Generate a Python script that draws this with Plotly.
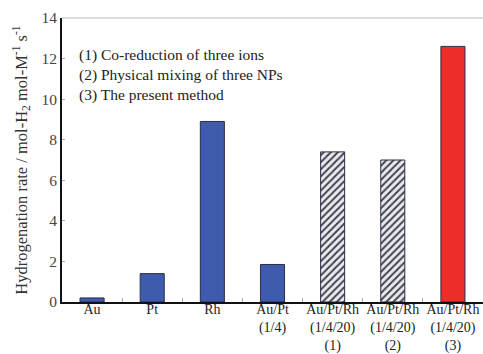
import plotly.graph_objects as go

# Catalyst samples and measured hydrogenation rates
categories = [
    "Au", "Pt", "Rh", "Au/Pt<br>(1/4)",
    "Au/Pt/Rh<br>(1/4/20)<br>(1)",
    "Au/Pt/Rh<br>(1/4/20)<br>(2)",
    "Au/Pt/Rh<br>(1/4/20)<br>(3)",
]
rates = [0.2, 1.4, 8.9, 1.85, 7.4, 7.0, 12.6]

fill_colors = ["#3f5bae", "#3f5bae", "#3f5bae", "#3f5bae", "#e8eaf6", "#e8eaf6", "#ee2c28"]
hatch_colors = ["#3f5bae", "#3f5bae", "#3f5bae", "#3f5bae", "#2f3fb0", "#2f3fb0", "#ee2c28"]
pattern_shapes = ["", "", "", "", "/", "/", ""]

notes = [
    "(1) Co-reduction of three ions",
    "(2) Physical mixing of three NPs",
    "(3) The present method",
]

serif = "Liberation Serif, Times New Roman, serif"

fig = go.Figure()
fig.add_trace(go.Bar(
    x=categories,
    y=rates,
    width=0.4,
    marker=dict(
        color=fill_colors,
        line=dict(color="#2a2f45", width=1),
        pattern=dict(shape=pattern_shapes, fgcolor=hatch_colors, fgopacity=1,
                     fillmode="overlay", size=5, solidity=0.4),
    ),
))

fig.update_layout(
    width=483, height=354,
    margin=dict(l=62, r=0, t=18, b=52),
    plot_bgcolor="white", paper_bgcolor="white",
    showlegend=False,
    font=dict(family=serif, size=14, color="#222"),
    xaxis=dict(
        showline=True, linecolor="#111", linewidth=2,
        ticks="inside", ticklen=4, tickcolor="#aaa",
        tickson="boundaries", tickangle=0, automargin=False,
        ticklabelstandoff=-7,
        tickfont=dict(family=serif, size=14, color="#222"),
        showgrid=False,
    ),
    yaxis=dict(
        range=[0, 14], dtick=2,
        showline=True, linecolor="#111", linewidth=2,
        ticks="inside", ticklen=3, tickcolor="#aaa",
        automargin=False,
        tickfont=dict(family=serif, size=15.5, color="#444"),
        showgrid=False, zeroline=False,
        title=dict(text="Hydrogenation rate / mol-H<sub>2</sub> mol-M<sup>-1</sup> s<sup>-1</sup>",
                   font=dict(family=serif, size=16.5, color="#333"), standoff=10),
    ),
)

# Thin frame line along the top of the plot area
fig.add_shape(type="line", xref="paper", yref="paper", x0=0, x1=1, y0=1, y1=1,
              line=dict(color="#bbb", width=1))

fig.add_annotation(
    xref="paper", yref="paper", x=0.035, y=0.91, xanchor="left", yanchor="top",
    text="<br>".join(notes), showarrow=False, align="left",
    font=dict(family=serif, size=15.5, color="#222"),
)

fig.write_html("out.html")
